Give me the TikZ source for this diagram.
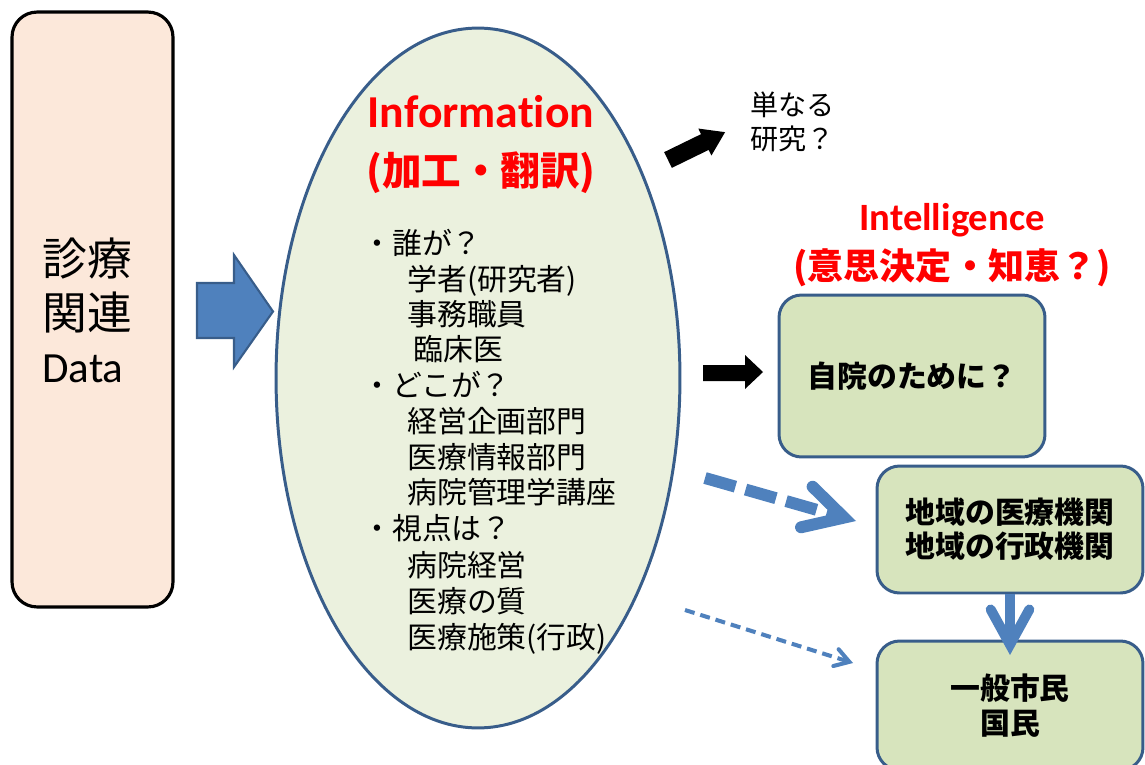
\documentclass[tikz,border=0pt]{standalone}
\usepackage{fontspec}
\setmainfont{Noto Sans CJK JP}
\newfontfamily\carl[Ligatures={NoCommon}]{Carlito}
\usetikzlibrary{shapes.geometric,arrows.meta}
\definecolor{peach}{HTML}{FCE8DA}
\definecolor{ellfill}{HTML}{EBF1DE}
\definecolor{bord}{HTML}{385D8A}
\definecolor{boxfill}{HTML}{D7E4BD}
\definecolor{blu}{HTML}{4F81BD}
\definecolor{redt}{HTML}{FF0000}
\begin{document}
\begin{tikzpicture}[x=0.02cm,y=-0.02cm,
  lbox/.style={draw=black,line width=1.8pt,fill=peach,rounded corners=0.5cm,
    minimum width=3.22cm,minimum height=11.9cm,inner sep=0pt},
  ell/.style={ellipse,draw=bord,line width=1.7pt,fill=ellfill,
    minimum width=8.08cm,minimum height=14cm,inner sep=0pt},
  gbox/.style={draw=bord,line width=1.7pt,fill=boxfill,rounded corners=0.45cm,
    minimum width=5.32cm,inner sep=0pt,align=center,
    font=\fontsize{17}{19.5}\selectfont\bfseries},
  bigtxt/.style={anchor=base west,inner sep=0pt,font=\fontsize{25.5}{30}\selectfont},
  listtxt/.style={anchor=base west,inner sep=0pt,font=\fontsize{17}{20}\selectfont},
  redtitle/.style={anchor=base,inner sep=0pt,text=redt},
  blockarrow/.style={fill=black},
  fatdash/.style={draw=blu,line width=6.8pt,dash pattern=on 18pt off 6pt,
    -{Straight Barb[length=22pt,width=24pt,line cap=round]}},
  thindash/.style={draw=blu,line width=2.3pt,dash pattern=on 5.7pt off 3.4pt,
    -{Straight Barb[length=8pt,width=10pt,line cap=round]}},
  downarr/.style={draw=blu,line width=5.7pt,
    -{Straight Barb[length=20pt,width=22pt,line cap=round]}}
]
\useasboundingbox (0,0) rectangle (1145,764);
\clip (0,0) rectangle (1145,764);

% left data box
\node[lbox] (data) at (92.5,309.5) {};
\node[bigtxt] (d1) at (42,275) {診療};
\node[bigtxt] (d2) at (42,329) {関連};
\node[bigtxt,font=\carl\fontsize{24.5}{28}\selectfont] (d3) at (42,382) {Data};

% blue block arrow
\path[fill=blu,draw=bord,line width=1.2pt,line join=miter]
  (197,283) -- (234,283) -- (234,255) -- (273,311.5) -- (234,367) -- (234,338) -- (197,338) -- cycle;

% ellipse
\node[ell] (info) at (478,378) {};
\node[redtitle,font=\carl\bfseries\fontsize{26}{30}\selectfont] (inf1) at (481,127) {Information};
\node[redtitle,font=\bfseries\fontsize{22.5}{26}\selectfont] (inf2) at (481,185) {(加工・翻訳)};

\node[listtxt] (l1) at (362,254) {・誰が？};
\node[listtxt] (l2) at (407,290) {学者(研究者)};
\node[listtxt] (l3) at (407,325) {事務職員};
\node[listtxt] (l4) at (413,360) {臨床医};
\node[listtxt] (l5) at (362,396) {・どこが？};
\node[listtxt] (l6) at (407,432) {経営企画部門};
\node[listtxt] (l7) at (407,468) {医療情報部門};
\node[listtxt] (l8) at (407,503) {病院管理学講座};
\node[listtxt] (l9) at (362,539) {・視点は？};
\node[listtxt] (l10) at (407,576) {病院経営};
\node[listtxt] (l11) at (407,612) {医療の質};
\node[listtxt] (l12) at (407,648) {医療施策(行政)};

% black arrow up-right
\begin{scope}[shift={(668,160)},rotate=26]
  \path[blockarrow] (0,-8.75) -- (41,-8.75) -- (41,-15) -- (63.5,0) -- (41,15) -- (41,8.75) -- (0,8.75) -- cycle;
\end{scope}
\node[listtxt,font=\fontsize{16}{19}\selectfont] (r1) at (750,115) {単なる};
\node[listtxt,font=\fontsize{16}{19}\selectfont] (r2) at (750,149) {研究？};

% intelligence title
\node[redtitle,font=\carl\bfseries\fontsize{22}{26}\selectfont] (int1) at (952,230) {Intelligence};
\node[redtitle,font=\bfseries\fontsize{20.5}{24}\selectfont] (int2) at (952,279) {(意思決定・知恵？)};

% black right arrow
\path[blockarrow] (703,365) -- (745,365) -- (745,355) -- (763,372) -- (745,389) -- (745,381) -- (703,381) -- cycle;

% green boxes
\node[gbox,minimum height=3.24cm] (b1) at (912,376) {自院のために？};
\node[gbox,minimum height=2.54cm] (b2) at (1010,529.5) {地域の医療機関\\地域の行政機関};
\node[gbox,minimum height=2.58cm] (b3) at (1010,705.5) {一般市民\\国民};

% dashed arrows
\coordinate (fs) at (705,478);
\coordinate (fe) at (856,521);
\draw[fatdash] (fs) -- (fe);
\coordinate (ts) at (685,610);
\coordinate (te) at (853,663);
\draw[thindash] (ts) -- (te);

% down arrow
\coordinate (dtip) at (1010,655);
\draw[downarr] (b2.south) -- (dtip);
\end{tikzpicture}
\end{document}
